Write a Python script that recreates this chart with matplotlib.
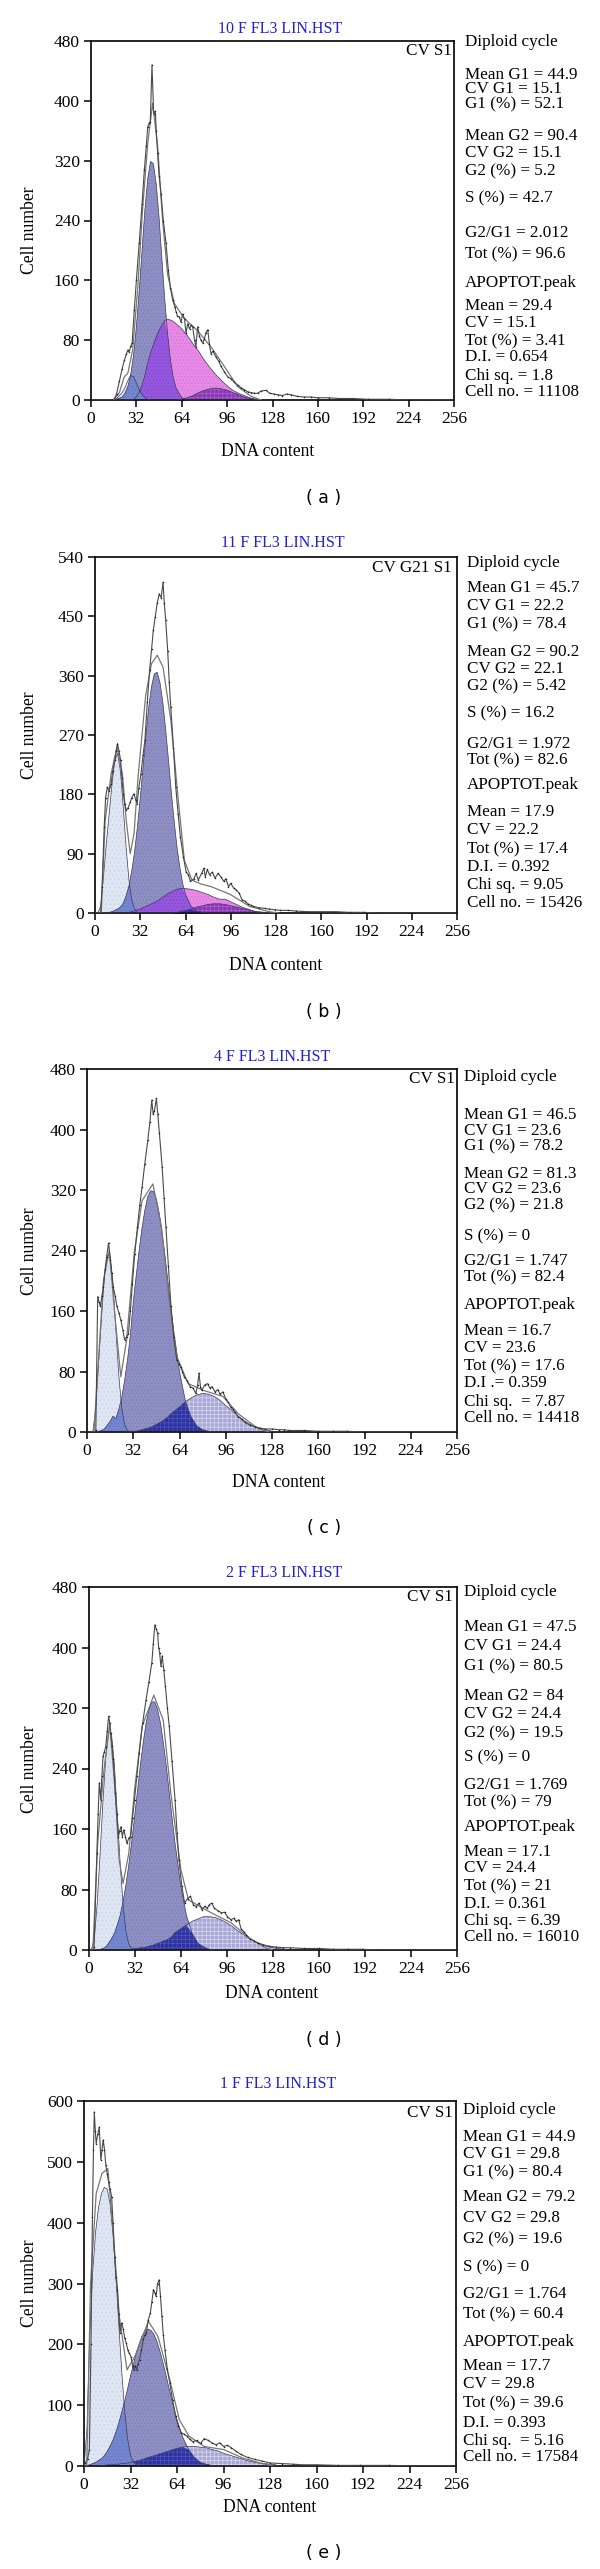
import numpy as np
import matplotlib
matplotlib.use("Agg")
import matplotlib.pyplot as plt

# ---------------- data ----------------
titles = ["10 F FL3 LIN.HST", "11 F FL3 LIN.HST", "4 F FL3 LIN.HST", "2 F FL3 LIN.HST", "1 F FL3 LIN.HST"]
captions = ["( a )", "( b )", "( c )", "( d )", "( e )"]
model_labels = ["CV S1", "CV G21 S1", "CV S1", "CV S1", "CV S1"]
y_max = [480, 540, 480, 480, 600]
y_step = [80, 90, 80, 80, 100]
x_ticks = [0, 32, 64, 96, 128, 160, 192, 224, 256]

stats_a = ["Diploid cycle", "Mean G1 = 44.9", "CV G1 = 15.1", "G1 (%) = 52.1", "Mean G2 = 90.4", "CV G2 = 15.1",
           "G2 (%) = 5.2", "S (%) = 42.7", "G2/G1 = 2.012", "Tot (%) = 96.6", "APOPTOT.peak", "Mean = 29.4",
           "CV = 15.1", "Tot (%) = 3.41", "D.I. = 0.654", "Chi sq. = 1.8", "Cell no. = 11108"]
stats_b = ["Diploid cycle", "Mean G1 = 45.7", "CV G1 = 22.2", "G1 (%) = 78.4", "Mean G2 = 90.2", "CV G2 = 22.1",
           "G2 (%) = 5.42", "S (%) = 16.2", "G2/G1 = 1.972", "Tot (%) = 82.6", "APOPTOT.peak", "Mean = 17.9",
           "CV = 22.2", "Tot (%) = 17.4", "D.I. = 0.392", "Chi sq. = 9.05", "Cell no. = 15426"]
stats_c = ["Diploid cycle", "Mean G1 = 46.5", "CV G1 = 23.6", "G1 (%) = 78.2", "Mean G2 = 81.3", "CV G2 = 23.6",
           "G2 (%) = 21.8", "S (%) = 0", "G2/G1 = 1.747", "Tot (%) = 82.4", "APOPTOT.peak", "Mean = 16.7",
           "CV = 23.6", "Tot (%) = 17.6", "D.I .= 0.359", "Chi sq.  = 7.87", "Cell no. = 14418"]
stats_d = ["Diploid cycle", "Mean G1 = 47.5", "CV G1 = 24.4", "G1 (%) = 80.5", "Mean G2 = 84", "CV G2 = 24.4",
           "G2 (%) = 19.5", "S (%) = 0", "G2/G1 = 1.769", "Tot (%) = 79", "APOPTOT.peak", "Mean = 17.1",
           "CV = 24.4", "Tot (%) = 21", "D.I. = 0.361", "Chi sq. = 6.39", "Cell no. = 16010"]
stats_e = ["Diploid cycle", "Mean G1 = 44.9", "CV G1 = 29.8", "G1 (%) = 80.4", "Mean G2 = 79.2", "CV G2 = 29.8",
           "G2 (%) = 19.6", "S (%) = 0", "G2/G1 = 1.764", "Tot (%) = 60.4", "APOPTOT.peak", "Mean = 17.7",
           "CV = 29.8", "Tot (%) = 39.6", "D.I. = 0.393", "Chi sq.  = 5.16", "Cell no. = 17584"]

# raw histograms (DNA channel, cell count)
hist_a = [(0,0),(16,0),(18,8),(20,25),(22,42),(23.5,53),(25,62),(26,67),(27,64),(28,72),(29,76),(30.5,120),(32,160),
          (34,210),(36,262),(37.6,307),(39,340),(40,365),(41,370),(41.8,372),(43,448),(44.2,383),(45.4,386),(46,360),
          (47,330),(48,300),(49.4,275),(51,240),(52.9,210),(54.5,174),(56,150),(57.6,134),(59,125),(60,118),(61,112),
          (62.3,111),(63.5,104),(64.6,115),(66,108),(67,89),(68.2,102),(69.5,95),(70.5,100),(71.7,98),(73,80),(74,71),
          (75.2,98),(76.5,85),(77.5,80),(78.8,76),(80,82),(81,90),(82.3,94),(83.5,75),(84.6,62),(86,65),(88,58),(90,52),
          (91.7,45),(94,38),(96.4,31),(99,28),(101,24),(103.4,20),(106,16),(108,14),(110.5,11),(113,10),(115,9),
          (117.5,9),(120,12),(123.4,13),(126,9),(129,8),(131.6,7),(135,6),(138,8),(141,7),(145,5),(150,4),(155,4),
          (160,3),(168,3),(175,2),(185,2),(195,1),(210,1),(225,0),(240,0),(256,0)]
hist_b = [(0,0),(4,0),(5,40),(6.5,130),(7.5,175),(8.7,191),(10,185),(11.4,196),(12.5,215),(14.1,232),(15,245),
          (15.9,257),(17,245),(18.1,232),(19,205),(20,181),(21,165),(22.1,156),(23.5,160),(24.9,168),(26,175),
          (27.6,181),(28.7,172),(29.8,166),(31,190),(32.5,211),(34,240),(35.3,262),(37,320),(38.6,368),(40,400),
          (41.3,430),(42.6,449),(44,470),(45.4,484),(46.8,478),(48.1,502),(49,470),(50,444),(51.4,398),(52.5,350),
          (53.6,312),(55.5,250),(57.1,191),(58.8,150),(60.4,115),(62.5,85),(64.5,62),(66,58),(67.5,48),(69.9,52),
          (71.5,60),(73,50),(75.4,60),(77,68),(78,55),(79.4,66),(81,58),(83,62),(84.9,53),(87,60),(89,55),(91,48),
          (92.5,52),(94.4,40),(96,45),(98,38),(99.9,35),(102,30),(104,20),(106,18),(108,14),(110,12),(112,10),
          (116,8),(120,7),(123,6),(127,5),(131,4),(136.6,4),(142,3),(150,2),(160,2),(170,2),(180,1),(190,1),
          (200,0),(256,0)]
hist_c = [(0,0),(5.5,0),(6.1,3),(7.4,179),(8.3,172),(9.3,166),(10.3,180),(11.4,192),(12.5,215),(13.6,232),
          (14.9,250),(16.2,228),(17.2,210),(18.1,192),(19.5,180),(20.7,166),(22,158),(23.4,148),(24.8,135),(26,122),
          (27.4,126),(28.7,130),(30,160),(31.4,196),(33,235),(34.9,271),(36.5,300),(38.1,324),(40,355),(42.1,386),
          (43.5,410),(44.8,439),(45.8,420),(46.7,425),(48,441),(49,420),(50.1,395),(52,350),(53.3,310),(54.6,271),
          (56.3,220),(58.1,166),(60,125),(62.1,95),(63.5,90),(64.7,86),(66,80),(67.3,73),(69.3,68),(71.3,60),
          (73.3,58),(75.3,51),(76.5,62),(77.5,78),(78.5,60),(79.4,55),(81.4,62),(83.4,64),(85,58),(86.5,60),
          (88.7,53),(90.5,56),(92,50),(94,53),(96,44),(97.5,40),(99.4,33),(101,30),(102.5,26),(104.7,20),(107,17),
          (109,13),(112.7,9),(116,7),(120,5),(123.3,4),(128,4),(133,3),(136.6,3),(140,2),(150,2),(160,1),(170,1),
          (180,1),(190,0),(256,0)]
hist_d = [(0,0),(3.5,0),(3.9,4),(5.8,128),(6.7,180),(7.5,221),(8.5,199),(9.3,230),(10.1,256),(11,262),(12,269),
          (13,290),(14,309),(14.8,300),(15.5,287),(16.4,270),(17.3,252),(18.6,208),(19.7,180),(20.8,150),(21.7,158),
          (22.6,163),(23.5,150),(24.5,159),(25.6,150),(26.7,141),(28,148),(29.3,150),(30.6,175),(32,199),(33.6,230),
          (35.2,260),(37.6,300),(40,331),(42,355),(44,380),(45,405),(46.1,430),(47,425),(48,419),(48.7,400),
          (49.4,393),(50.3,375),(51.2,389),(52.3,370),(53.4,349),(54.8,320),(56.1,296),(58,250),(60.1,199),
          (61.5,155),(62.8,119),(64.8,85),(66.8,62),(68.8,68),(70.8,71),(72.8,60),(74.8,57),(76.8,62),(78.8,53),
          (80.8,58),(82.5,55),(84,60),(85.6,62),(87.5,55),(90,52),(92.3,49),(94.5,50),(96.5,44),(99,40),(101,42),
          (102.5,38),(104.3,40),(106,28),(108,24),(109.6,20),(112,15),(115,12),(117.6,9),(121,7),(125.6,5),(130,4),
          (135,3),(140,3),(150,2),(160,2),(170,1),(180,1),(190,1),(200,0),(256,0)]
hist_e = [(0,0),(1,5),(2.5,12),(3.7,27),(4.8,200),(5.8,410),(6.5,520),(7.1,582),(7.8,550),(8.4,530),(9.4,545),
          (10.5,557),(11.6,503),(12.4,520),(13.2,536),(14.1,520),(15,495),(16,480),(16.9,467),(18,455),(19,443),
          (20,400),(21.1,344),(22,310),(23,290),(23.9,250),(24.8,219),(25.9,235),(27,225),(28,210),(29.1,202),
          (30.2,190),(31.2,185),(32.3,180),(33.4,165),(34.4,158),(35.3,165),(36.3,158),(37.2,168),(38.2,175),
          (39.5,190),(40.8,208),(41.8,215),(42.9,219),(44.2,240),(45.6,251),(46.7,270),(47.8,290),(48.7,285),
          (49.6,279),(50.6,300),(51.7,306),(52.6,280),(53.6,246),(54.6,215),(55.7,191),(57.3,160),(59,137),(61,108),
          (63,82),(65,65),(66.9,55),(68.9,52),(70.9,49),(72.8,44),(74.8,40),(77.5,42),(80.2,37),(82.8,45),(85.5,42),
          (88,38),(90.8,35),(93.5,38),(96.1,32),(98.7,34),(101.4,30),(104.7,24),(108,19),(112.7,14),(117.4,11),
          (122.7,8),(128,5),(136,4),(143.8,3),(150,2),(160,2),(175,1),(190,1),(210,1),(230,0),(256,0)]

# fitted envelope (smooth model sum)
env_a = [(16,0),(20,10),(23.5,31),(26,36),(29.4,67),(33,151),(36.4,255),(40,343),(43.5,397),(47,339),(50.5,240),
         (54,168),(58.8,129),(65.8,109),(75,93),(84.6,71),(94,45),(103.4,18),(112.8,5),(120,0)]
env_b = [(4.4,0),(7.2,140),(11.4,211),(15.5,252),(19.4,211),(22.1,140),(24.9,90),(27.6,120),(30.4,205),(35.8,329),
         (39.9,378),(44,391),(48.1,373),(53.6,293),(59,169),(63.2,80),(68.5,50),(75,44),(82.1,40),(95.8,28),
         (109.4,10),(123,2),(130,0)]
env_c = [(4.8,0),(8.8,122),(11.4,201),(15.4,240),(19.4,152),(23.4,73),(27.4,122),(32.7,237),(38.1,306),(45.6,328),
         (51.5,271),(56.8,175),(62.1,100),(70,64),(80.6,55),(94,47),(104.7,24),(118,5),(126,0)]
env_d = [(3,0),(6.4,141),(10.5,234),(14.7,300),(18.6,208),(21.3,119),(24,88),(28,128),(32,212),(37.3,296),
         (45.4,337),(51.9,304),(57.2,207),(64.2,106),(69.5,66),(85.5,49),(99,36),(112.3,15),(123,3),(128,0)]
env_e = [(1.9,0),(4.5,300),(8.4,448),(12.4,481),(16.4,489),(20.3,377),(24.3,246),(29.6,158),(35,180),(40.3,213),
         (44.3,238),(50.9,213),(59,142),(65.6,76),(72.3,49),(82.8,32),(96.1,27),(109.4,13),(122.7,4),(130,0)]

# model components sampled on a grid (apoptotic peak, G1, S phase, G2)
grid_a = [14,18,22,24,26,28,30,32,34,36,38,40,42,44,46,48,50,52,54,56,58,60,64,68,72,76,80,84,88,92,96,100,104,108,112,116,120]
apop_a = [0,2,10,17,26,33,31,23,14,7,3,1,0,0,0,0,0,0,0,0,0,0,0,0,0,0,0,0,0,0,0,0,0,0,0,0,0]
g1_a   = [0,1,4,9,18,34,60,98,146,200,254,296,319,316,289,244,189,135,89,54,30,16,3,0,0,0,0,0,0,0,0,0,0,0,0,0,0]
s_a    = [0,0,0,0,0,0,1,4,10,20,33,50,63,74,84,93,100,106,108,107,105,102,95,86,75,65,53,43,34,26,19,13,9,6,3,1,0]
g2_a   = [0,0,0,0,0,0,0,0,0,0,0,0,0,0,0,0,0,0,0,0,0,0,1,3,6,10,13,15,16,15,13,10,7,4,2,1,0]

grid_b = [2,4,6,8,10,12,14,16,18,20,22,24,26,28,30,32,34,36,38,40,42,44,46,48,50,52,54,56,58,60,62,64,68,72,76,80,84,
          88,92,96,100,104,108,112,116,120,124,128]
apop_b = [0,10,55,105,150,195,232,242,215,160,100,50,20,6,1,0,0,0,0,0,0,0,0,0,0,0,0,0,0,0,0,0,0,0,0,0,0,
          0,0,0,0,0,0,0,0,0,0,0]
g1_b   = [0,0,0,0,1,2,4,6,9,15,26,41,64,93,131,174,222,269,312,344,363,365,349,319,278,231,183,139,100,69,45,28,10,3,1,0,0,
          0,0,0,0,0,0,0,0,0,0,0]
s_b    = [0,0,0,0,0,0,0,0,0,0,0,1,2,3,5,6,8,10,12,14,16,18,21,24,27,30,32,34,36,37,37,37,36,34,31,28,24,
          21,21,17,13,9,6,3,1,0,0,0]
g2_b   = [0,0,0,0,0,0,0,0,0,0,0,0,0,0,0,0,0,0,0,0,0,0,0,0,0,0,0,1,1,2,3,4,6,9,11,13,14,
          14,13,11,9,7,5,3,2,1,0,0]

grid_c = [4,6,8,10,12,14,16,18,20,22,24,26,28,30,32,34,36,38,40,42,44,46,48,50,52,54,56,58,60,64,68,72,76,80,84,88,
          92,96,100,104,108,112,116,120,124,128,132]
apop_c = [0,30,90,150,205,234,232,195,135,75,32,10,2,0,0,0,0,0,0,0,0,0,0,0,0,0,0,0,0,0,0,0,0,0,0,0,
          0,0,0,0,0,0,0,0,0,0,0]
g1_c   = [0,0,1,2,4,9,14,21,18,30,45,68,95,128,172,206,239,269,293,311,319,318,308,289,263,233,199,166,134,80,42,20,8,3,1,0,
          0,0,0,0,0,0,0,0,0,0,0]
g2_c   = [0,0,0,0,0,0,0,0,0,0,0,0,1,1,1,1,2,3,4,5,6,8,10,12,14,17,20,24,27,33,40,45,49,51,50,47,
          42,35,29,22,16,11,7,5,3,1,0]

grid_d = [2,4,6,8,10,12,14,16,18,20,22,24,26,28,30,32,34,36,38,40,42,44,46,48,50,52,54,56,58,60,64,68,72,76,80,84,
          88,92,96,100,104,108,112,116,120,124,128,132,136]
apop_d = [0,15,60,125,195,255,288,285,245,180,115,60,25,8,2,0,0,0,0,0,0,0,0,0,0,0,0,0,0,0,0,0,0,0,0,0,
          0,0,0,0,0,0,0,0,0,0,0,0,0]
g1_d   = [0,0,0,1,2,4,9,15,22,33,46,64,86,113,143,176,210,244,274,300,318,328,328,318,300,274,244,210,176,143,86,46,22,9,4,1,
          0,0,0,0,0,0,0,0,0,0,0,0,0]
g2_d   = [0,0,0,0,0,0,0,0,0,0,0,0,0,1,1,2,2,3,3,4,5,6,7,9,10,12,13,15,18,23,28,33,38,41,44,44,
          43,40,36,31,25,20,15,11,8,5,3,2,1]

grid_e = [0,2,4,6,8,10,12,14,16,18,20,22,24,26,28,30,32,34,36,38,40,42,44,46,48,50,52,54,56,58,60,64,68,72,76,80,84,
          88,92,96,100,104,108,112,116,120,124,128,132]
apop_e = [0,60,220,320,385,425,448,458,455,430,380,310,230,155,90,45,18,6,2,0,0,0,0,0,0,0,0,0,0,0,0,0,0,0,0,0,0,
          0,0,0,0,0,0,0,0,0,0,0,0]
g1_e   = [1,1,2,4,6,9,12,17,24,33,43,56,71,89,107,127,148,167,186,201,214,222,225,223,217,206,191,173,154,133,113,76,47,27,14,6,3,
          1,0,0,0,0,0,0,0,0,0,0,0]
g2_e   = [0,0,0,0,0,0,1,1,2,2,2,3,3,4,4,5,6,7,8,9,11,12,14,15,17,18,20,21,23,24,26,29,31,32,32,31,30,
          27,25,21,18,15,12,9,7,5,4,3,2]

# ---------------- layout (pixels in the 600 x 2569 canvas) ----------------
W, H = 600, 2569
axes_px = [(91, 454, 41, 400), (95, 457, 557, 913), (87, 457, 1069, 1432), (88.5, 457, 1587, 1950), (84, 456, 2101, 2466)]
title_px = [(280, 29), (283, 543), (272, 1057), (284, 1573), (278, 2084)]
xlabel_px = [(268, 452), (276, 966), (279, 1482), (272, 1993), (270, 2507)]
ylabel_px = [(30, 230), (30, 735), (30, 1251), (30, 1769), (30, 2283)]
caption_px = [(324, 498), (324, 1012), (324, 1528), (324, 2040), (324, 2553)]
model_px = [(452, 51), (452, 568), (455, 1079), (453, 1597), (453, 2113)]
stats_x = [465, 467, 464, 464, 463]
stats_y = [[42, 75, 89, 104, 136, 153, 171, 198, 233, 254, 283, 306, 323, 341, 357, 376, 392],
           [563, 588, 606, 624, 652, 669, 686, 713, 744, 760, 785, 812, 830, 849, 867, 885, 903],
           [1077, 1115, 1131, 1146, 1174, 1189, 1205, 1236, 1261, 1277, 1305, 1331, 1348, 1366, 1383, 1402, 1418],
           [1592, 1627, 1646, 1666, 1696, 1714, 1733, 1757, 1785, 1802, 1827, 1852, 1868, 1886, 1904, 1921, 1937],
           [2110, 2137, 2154, 2172, 2197, 2218, 2239, 2267, 2294, 2314, 2342, 2366, 2384, 2403, 2423, 2441, 2457]]

SERIF = ["Liberation Serif", "DejaVu Serif"]
plt.rcParams["hatch.linewidth"] = 0.35

C_APOP = "#dfe6f3"
C_G1 = "#8d8fc5"
C_APOP_G1 = "#7486cf"
C_S = "#e68ae6"
C_G1_S = "#9457dd"
C_S_G2 = "#8e37b8"
C_G2 = "#a9a9d7"
C_G1_G2 = "#2d33a2"

panels = [
    dict(hist=hist_a, env=env_a, grid=grid_a, apop=apop_a, g1=g1_a, s=s_a, g2=g2_a, stats=stats_a),
    dict(hist=hist_b, env=env_b, grid=grid_b, apop=apop_b, g1=g1_b, s=s_b, g2=g2_b, stats=stats_b),
    dict(hist=hist_c, env=env_c, grid=grid_c, apop=apop_c, g1=g1_c, s=None, g2=g2_c, stats=stats_c),
    dict(hist=hist_d, env=env_d, grid=grid_d, apop=apop_d, g1=g1_d, s=None, g2=g2_d, stats=stats_d),
    dict(hist=hist_e, env=env_e, grid=grid_e, apop=apop_e, g1=g1_e, s=None, g2=g2_e, stats=stats_e),
]

fig = plt.figure(figsize=(W / 100, H / 100), dpi=100)


def fy(y):
    return 1 - y / H


def fill(ax, x, y, color, hatch=None, hatch_color=None):
    ax.fill_between(x, 0, y, facecolor=color, edgecolor=hatch_color if hatch else color,
                    hatch=hatch, linewidth=0, zorder=2)


for i, p in enumerate(panels):
    L, R, T, B = axes_px[i]
    ax = fig.add_axes([L / W, fy(B), (R - L) / W, (B - T) / H])
    ax.set_xlim(0, 256)
    ax.set_ylim(0, y_max[i])
    ax.set_xticks(x_ticks)
    ax.set_yticks(np.arange(0, y_max[i] + 1, y_step[i]))
    for sp in ax.spines.values():
        sp.set_linewidth(1.2)
    ax.tick_params(direction="out", length=5, width=1.1, labelsize=12.5, pad=3)
    for lab in ax.get_xticklabels() + ax.get_yticklabels():
        lab.set_family(SERIF)

    x = np.array(p["grid"], float)
    apop = np.array(p["apop"], float)
    g1 = np.array(p["g1"], float)
    g2 = np.array(p["g2"], float)

    fill(ax, x, apop, C_APOP, "....", "#c3cde3")
    fill(ax, x, g1, C_G1, ".....", "#7577b0")
    if p["s"] is not None:
        s = np.array(p["s"], float)
        fill(ax, x, s, C_S, ".....", "#d070d8")
        fill(ax, x, np.minimum(g1, s), C_G1_S, ".....", "#7a40c8")
        fill(ax, x, np.minimum(s, g2), C_S_G2, "++++", "#b070d0")
        fill(ax, x, np.minimum(g1, g2), C_G1_G2)
    else:
        fill(ax, x, g2, C_G2, "++++", "#e8e8f6")
        fill(ax, x, np.minimum(g1, g2), C_G1_G2, "++++", "#5a60c0")
    fill(ax, x, np.minimum(apop, g1), C_APOP_G1, ".....", "#6070b8")

    for comp in (apop, g1, g2) + ((np.array(p["s"], float),) if p["s"] is not None else ()):
        ax.plot(x, comp, color="#3a3a5a", lw=0.5, zorder=3)

    ex, ey = zip(*p["env"])
    ax.plot(ex, ey, color="#777777", lw=0.9, zorder=4)
    hx, hy = zip(*p["hist"])
    ax.plot(hx, hy, color="#4a4a4a", lw=0.8, marker=".", markersize=2.2, markerfacecolor="#222222",
            markeredgewidth=0, zorder=5)

    # texts
    tx, ty = title_px[i]
    fig.text(tx / W, fy(ty), titles[i], color="#2020d0", ha="center", va="center", fontsize=11.5, family=SERIF)
    xx, xy = xlabel_px[i]
    fig.text(xx / W, fy(xy), "DNA content", ha="center", va="center", fontsize=12.7, family=SERIF)
    yx, yy = ylabel_px[i]
    fig.text(yx / W, fy(yy), "Cell number", ha="center", va="center", rotation=90, fontsize=12.7, family=SERIF)
    cx, cy = caption_px[i]
    fig.text(cx / W, fy(cy), captions[i], ha="center", va="center", fontsize=12.5, family="DejaVu Sans")
    mx, my = model_px[i]
    fig.text(mx / W, fy(my), model_labels[i], ha="right", va="center", fontsize=12.3, family=SERIF)
    for line, ly in zip(p["stats"], stats_y[i]):
        fig.text(stats_x[i] / W, fy(ly), line, ha="left", va="center", fontsize=12.3, family=SERIF)

fig.savefig("out.png", dpi=100)
